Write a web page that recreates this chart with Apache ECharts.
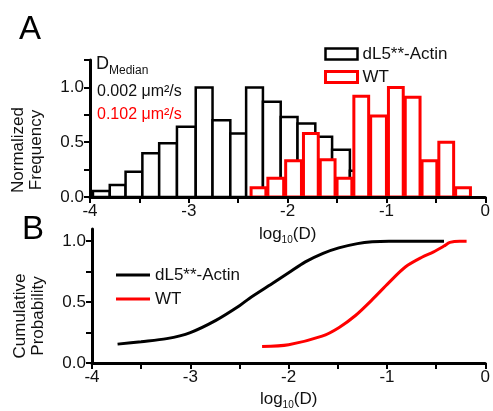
<!DOCTYPE html>
<html><head><meta charset="utf-8">
<script src="https://cdn.jsdelivr.net/npm/echarts@6/dist/echarts.min.js"></script>
<style>html,body{margin:0;padding:0;background:#fff}#c{width:493px;height:411px}</style>
</head><body><div id="c"></div>
<script>
// ---- data ----
const seriesLabels = ['dL5**-Actin', 'WT'];
const medianValues = ['0.002', '0.102'];

// Histogram (panel A): bin edges on log10(D) and normalized heights
const blackEdges = [-3.97, -3.80, -3.64, -3.47, -3.30, -3.12, -2.93, -2.76, -2.58, -2.42, -2.25,
                    -2.07, -1.90, -1.72, -1.55, -1.37, -1.20, -1.03, -0.86, -0.69, -0.52, -0.35];
const blackHeights = [0.055, 0.11, 0.23, 0.40, 0.49, 0.64, 1.0, 0.70, 0.58, 1.0, 0.87,
                      0.73, 0.67, 0.55, 0.43, 0.24, 0.17, 0.06, 0.01, 0.0, 0.02];
const redEdges = [-2.38, -2.21, -2.03, -1.85, -1.68, -1.51, -1.34, -1.17, -0.99, -0.82, -0.65, -0.48, -0.31, -0.14];
const redHeights = [0.085, 0.17, 0.33, 0.58, 0.34, 0.17, 0.92, 0.74, 1.0, 0.91, 0.33, 0.50, 0.085];

// Cumulative probability (panel B)
const cdfBlackX = [-3.74, -3.5, -3.24, -3.0, -2.74, -2.5, -2.4, -2.17, -2.0, -1.83, -1.65, -1.49, -1.3, -1.15, -0.98, -0.7, -0.42];
const cdfBlackY = [0.155, 0.175, 0.20, 0.25, 0.35, 0.47, 0.53, 0.65, 0.74, 0.83, 0.90, 0.945, 0.98, 0.995, 1.0, 1.0, 1.0];
const cdfRedX = [-2.27, -2.0, -1.66, -1.49, -1.32, -1.15, -0.98, -0.81, -0.64, -0.53, -0.42, -0.36, -0.26, -0.19];
const cdfRedY = [0.135, 0.15, 0.22, 0.29, 0.39, 0.52, 0.66, 0.79, 0.87, 0.91, 0.96, 0.99, 1.0, 1.0];

// Axis ticks and labels
const xTicks = [-4, -3.5, -3, -2.5, -2, -1.5, -1, -0.5, 0];
const xLabels = [-4, -3, -2, -1, 0];
const histYTicks = [0, 0.25, 0.5, 0.75, 1.0, 1.25];
const cdfYTicks = [0, 0.25, 0.5, 0.75, 1.0];
const yLabels = [0, 0.5, 1.0];

// ---- chart ----
const FONT = "'Liberation Sans', Arial, sans-serif";
const TXT = '#111';
const nameMap = { hist_dL5: seriesLabels[0], hist_WT: seriesLabels[1], cdf_dL5: seriesLabels[0], cdf_WT: seriesLabels[1] };

function barRender(color, lw, inset) {
  return function (params, api) {
    const p0 = api.coord([api.value(0), api.value(2)]);
    const p1 = api.coord([api.value(1), 0]);
    return {
      type: 'rect',
      shape: { x: p0[0] + inset, y: p0[1], width: p1[0] - p0[0] - 2 * inset, height: p1[1] - p0[1] },
      style: { fill: '#fff', stroke: color, lineWidth: lw }
    };
  };
}

function xAxisCfg(gi, nameGap) {
  return {
    type: 'value', gridIndex: gi, position: 'bottom', min: -4, max: 0, interval: 0.5, z: 5,
    axisLine: { onZero: false, lineStyle: { color: '#000', width: 3 } },
    axisTick: { customValues: xTicks, length: 6, lineStyle: { color: '#000', width: 2 } },
    axisLabel: { customValues: xLabels, formatter: v => String(v), color: TXT, fontSize: 17, fontFamily: FONT, margin: 6 },
    splitLine: { show: false },
    name: 'log{s|10}(D)', nameLocation: 'middle', nameGap: nameGap,
    nameTextStyle: {
      color: TXT, fontSize: 17, fontFamily: FONT, lineHeight: 22,
      rich: { s: { fontSize: 10, fontFamily: FONT, color: TXT, verticalAlign: 'bottom', lineHeight: 10 } }
    }
  };
}
function yAxisCfg(gi, max, ticks) {
  return {
    type: 'value', gridIndex: gi, position: 'left', min: 0, max: max, interval: 0.25, z: 5,
    axisLine: { onZero: false, lineStyle: { color: '#000', width: 3 } },
    axisTick: { customValues: ticks, length: 6, lineStyle: { color: '#000', width: 2 } },
    axisLabel: { customValues: yLabels, formatter: v => v.toFixed(1), color: TXT, fontSize: 17, fontFamily: FONT, margin: 6 },
    splitLine: { show: false }
  };
}

const chart = echarts.init(document.getElementById('c'), null, { renderer: 'canvas' });
chart.setOption({
  animation: false,
  backgroundColor: '#fff',
  textStyle: { fontFamily: FONT },
  grid: [
    { left: 90, right: 4, top: 60, height: 137 },
    { left: 92, right: 6, top: 229, height: 143 }
  ],
  xAxis: [xAxisCfg(0, 26), xAxisCfg(1, 25)],
  yAxis: [yAxisCfg(0, 1.25, histYTicks), yAxisCfg(1, 1.1, cdfYTicks)],
  legend: [
    {
      orient: 'vertical', left: 319, top: 40, itemWidth: 32, itemHeight: 11, itemGap: 5,
      formatter: n => nameMap[n],
      textStyle: { color: TXT, fontSize: 17, fontFamily: FONT, lineHeight: 18 },
      data: [
        { name: 'hist_dL5', icon: 'rect', itemStyle: { color: '#fff', borderColor: '#000', borderWidth: 2.5 } },
        { name: 'hist_WT', icon: 'rect', itemStyle: { color: '#fff', borderColor: '#ff0000', borderWidth: 3 } }
      ]
    },
    {
      orient: 'vertical', left: 111, top: 261, itemWidth: 34, itemHeight: 3, itemGap: 6,
      formatter: n => nameMap[n],
      textStyle: { color: TXT, fontSize: 17, fontFamily: FONT, lineHeight: 18 },
      data: [
        { name: 'cdf_dL5', icon: 'rect', itemStyle: { color: '#000' } },
        { name: 'cdf_WT', icon: 'rect', itemStyle: { color: '#ff0000' } }
      ]
    }
  ],
  graphic: [
    { type: 'text', left: 19, top: 13, style: { text: 'A', fontSize: 33, fontFamily: FONT, fill: '#000' } },
    { type: 'text', left: 22, top: 213, style: { text: 'B', fontSize: 33, fontFamily: FONT, fill: '#000' } },
    { type: 'text', x: 27, y: 150, rotation: Math.PI / 2,
      style: { text: 'Normalized\nFrequency', fontSize: 17, lineHeight: 18, fontFamily: FONT, fill: TXT, align: 'center', verticalAlign: 'middle' } },
    { type: 'text', x: 29, y: 316, rotation: Math.PI / 2,
      style: { text: 'Cumulative\nProbability', fontSize: 17, lineHeight: 18, fontFamily: FONT, fill: TXT, align: 'center', verticalAlign: 'middle' } },
    { type: 'text', left: 96, top: 55,
      style: { text: '{d|D}{m|Median}', fill: TXT, fontFamily: FONT,
        rich: { d: { fontSize: 18, lineHeight: 22, fontFamily: FONT, fill: TXT, verticalAlign: 'top' },
                m: { fontSize: 12, lineHeight: 12, fontFamily: FONT, fill: TXT, verticalAlign: 'bottom' } } } },
    { type: 'text', left: 97, top: 84, style: { text: medianValues[0] + ' \u03bcm\u00b2/s', fontSize: 16, fontFamily: FONT, fill: TXT } },
    { type: 'text', left: 97, top: 107, style: { text: medianValues[1] + ' \u03bcm\u00b2/s', fontSize: 16, fontFamily: FONT, fill: '#ff0000' } }
  ],
  series: [
    {
      name: 'hist_dL5', type: 'custom', xAxisIndex: 0, yAxisIndex: 0,
      itemStyle: { color: '#fff', borderColor: '#000' },
      renderItem: barRender('#000', 2.5, 0),
      encode: { x: [0, 1], y: 2 },
      data: blackHeights.map((h, i) => [blackEdges[i], blackEdges[i + 1], h])
    },
    {
      name: 'hist_WT', type: 'custom', xAxisIndex: 0, yAxisIndex: 0,
      itemStyle: { color: '#fff', borderColor: '#ff0000' },
      renderItem: barRender('#ff0000', 3, 1),
      encode: { x: [0, 1], y: 2 },
      data: redHeights.map((h, i) => [redEdges[i], redEdges[i + 1], h])
    },
    {
      name: 'cdf_dL5', type: 'line', xAxisIndex: 1, yAxisIndex: 1, smooth: 0.3,
      symbol: 'none', showSymbol: false, color: '#000',
      lineStyle: { color: '#000', width: 3 },
      data: cdfBlackX.map((x, i) => [x, cdfBlackY[i]])
    },
    {
      name: 'cdf_WT', type: 'line', xAxisIndex: 1, yAxisIndex: 1, smooth: 0.3,
      symbol: 'none', showSymbol: false, color: '#ff0000',
      lineStyle: { color: '#ff0000', width: 3 },
      data: cdfRedX.map((x, i) => [x, cdfRedY[i]])
    }
  ]
});
</script>
</body></html>
